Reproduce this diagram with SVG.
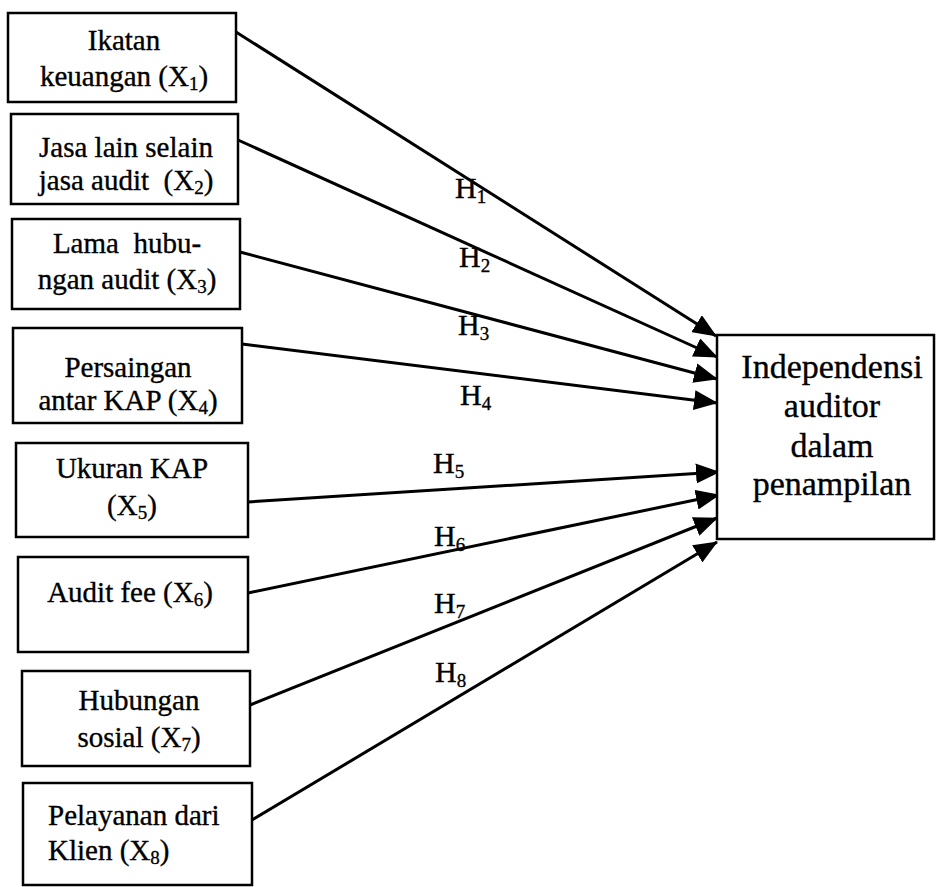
<svg xmlns="http://www.w3.org/2000/svg" width="936" height="887" viewBox="0 0 936 887">
<style>
.box{fill:#fff;stroke:#000;stroke-width:2.5}
.t{font-family:"Liberation Serif","Times New Roman",serif;font-size:29px;fill:#000;stroke:#000;stroke-width:0.35;text-anchor:middle}
.tl{text-anchor:start}
.big{font-size:34px}
.h{font-family:"Liberation Serif","Times New Roman",serif;font-size:30px;fill:#000;stroke:#000;stroke-width:0.35}
.sub{font-size:19px}
.c{stroke:#000;stroke-width:3;fill:none;marker-end:url(#ah)}
</style>
<defs>
<marker id="ah" markerUnits="userSpaceOnUse" markerWidth="24" markerHeight="20" refX="23" refY="10" orient="auto">
<path d="M0,0 L24,10 L0,20 z" fill="#000"/>
</marker>
</defs>
<rect width="936" height="887" fill="#fff"/>
<g id="connectors">
<line class="c" x1="236" y1="32" x2="716" y2="336"/>
<line class="c" x1="238" y1="140" x2="717" y2="357"/>
<line class="c" x1="240" y1="252" x2="717" y2="379"/>
<line class="c" x1="242" y1="344" x2="717" y2="403"/>
<line class="c" x1="248" y1="502" x2="719" y2="472"/>
<line class="c" x1="248" y1="593" x2="719" y2="495"/>
<line class="c" x1="250" y1="705" x2="717" y2="518"/>
<line class="c" x1="252" y1="820" x2="717" y2="542"/>
<text class="h" x="455" y="198">H<tspan class="sub" dy="5">1</tspan></text>
<text class="h" x="459" y="267">H<tspan class="sub" dy="5">2</tspan></text>
<text class="h" x="458" y="335">H<tspan class="sub" dy="5">3</tspan></text>
<text class="h" x="460" y="405">H<tspan class="sub" dy="5">4</tspan></text>
<text class="h" x="433" y="473">H<tspan class="sub" dy="5">5</tspan></text>
<text class="h" x="434" y="546">H<tspan class="sub" dy="5">6</tspan></text>
<text class="h" x="434" y="613">H<tspan class="sub" dy="5">7</tspan></text>
<text class="h" x="435" y="682">H<tspan class="sub" dy="5">8</tspan></text>
</g>
<g id="x1">
<rect class="box" x="8" y="13" width="228" height="89"/>
<text class="t" x="124" y="50">Ikatan</text>
<text class="t" x="124" y="86">keuangan (X<tspan class="sub" dy="4">1</tspan><tspan dy="-4">)</tspan></text>
</g>
<g id="x2">
<rect class="box" x="11" y="114" width="227" height="90"/>
<text class="t" x="126" y="157">Jasa lain selain</text>
<text class="t" x="126" y="190" xml:space="preserve">jasa audit  (X<tspan class="sub" dy="4">2</tspan><tspan dy="-4">)</tspan></text>
</g>
<g id="x3">
<rect class="box" x="12" y="219" width="228" height="90"/>
<text class="t" x="127" y="253" xml:space="preserve">Lama  hubu-</text>
<text class="t" x="127" y="289">ngan audit (X<tspan class="sub" dy="4">3</tspan><tspan dy="-4">)</tspan></text>
</g>
<g id="x4">
<rect class="box" x="13" y="328" width="229" height="95"/>
<text class="t" x="128" y="377">Persaingan</text>
<text class="t" x="128" y="410">antar KAP (X<tspan class="sub" dy="4">4</tspan><tspan dy="-4">)</tspan></text>
</g>
<g id="x5">
<rect class="box" x="16" y="443" width="232" height="94"/>
<text class="t" x="132" y="478">Ukuran KAP</text>
<text class="t" x="132" y="515">(X<tspan class="sub" dy="4">5</tspan><tspan dy="-4">)</tspan></text>
</g>
<g id="x6">
<rect class="box" x="18" y="557" width="230" height="95"/>
<text class="t" x="130" y="602">Audit fee (X<tspan class="sub" dy="4">6</tspan><tspan dy="-4">)</tspan></text>
</g>
<g id="x7">
<rect class="box" x="22" y="671" width="228" height="95"/>
<text class="t" x="139" y="710">Hubungan</text>
<text class="t" x="139" y="747">sosial (X<tspan class="sub" dy="4">7</tspan><tspan dy="-4">)</tspan></text>
</g>
<g id="x8">
<rect class="box" x="23" y="783" width="229" height="102"/>
<text class="t tl" x="48" y="825">Pelayanan dari</text>
<text class="t tl" x="48" y="860">Klien (X<tspan class="sub" dy="4">8</tspan><tspan dy="-4">)</tspan></text>
</g>
<g id="y">
<rect class="box" x="717" y="335" width="217" height="204"/>
<text class="t big" x="832" y="378">Independensi</text>
<text class="t big" x="832" y="417">auditor</text>
<text class="t big" x="832" y="457">dalam</text>
<text class="t big" x="832" y="495">penampilan</text>
</g>
</svg>
